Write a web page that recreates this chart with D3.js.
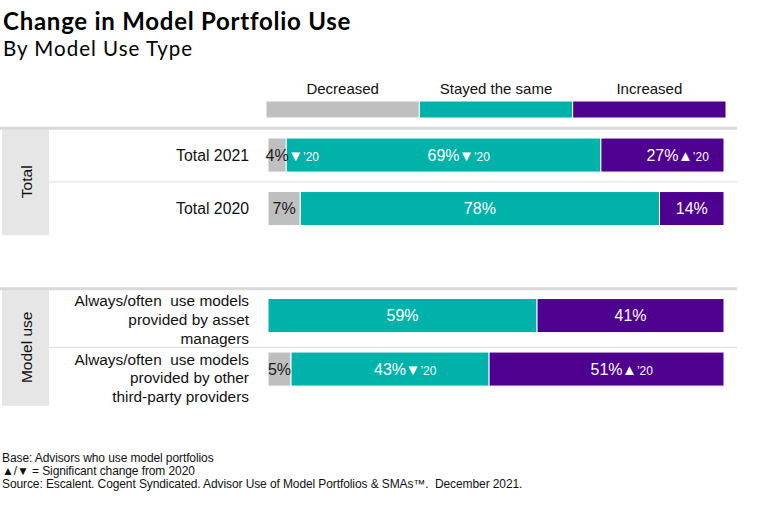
<!DOCTYPE html>
<html><head><meta charset="utf-8">
<script src="https://cdn.jsdelivr.net/npm/d3@7"></script>
<style>
html,body{margin:0;padding:0;background:#fff;}
text{font-family:"Liberation Sans",Arial,sans-serif;}
</style></head>
<body>
<svg id="chart" width="760" height="505"></svg>
<script>
// ---- data ----
const categories = ["Decreased", "Stayed the same", "Increased"];
const groups = ["Total", "Model use"];
const rowLabels = [
  ["Total 2021"],
  ["Total 2020"],
  ["Always/often  use models", "provided by asset", "managers"],
  ["Always/often  use models", "provided by other", "third-party providers"]
];
const rowGroup = ["Total", "Total", "Model use", "Model use"];
const decreased = [4, 7, 0, 5];
const stayed = [69, 78, 59, 43];
const increased = [27, 14, 41, 51];
const sigDecreased = ["down", null, null, null];
const sigStayed = ["down", null, null, "down"];
const sigIncreased = ["up", null, null, "up"];
const title = "Change in Model Portfolio Use";
const subtitle = "By Model Use Type";
const footnotes = [
  "Base: Advisors who use model portfolios",
  "\u25B2/\u25BC = Significant change from 2020",
  "Source: Escalent. Cogent Syndicated. Advisor Use of Model Portfolios & SMAs\u2122.  December 2021."
];

// ---- styles ----
const colors = ["#BFBFBF", "#00B2A9", "#4E008E"];
const labelColors = ["#1a1a1a", "#ffffff", "#ffffff"];

const svg = d3.select("#chart");

// titles
svg.append("text").attr("x", 3).attr("y", 30)
  .style("font-family", "Lato, 'Noto Sans', sans-serif").style("font-weight", 700)
  .style("font-size", "24px").style("letter-spacing", "0.75px").attr("fill", "#000").text(title);
svg.append("text").attr("x", 3).attr("y", 56)
  .style("font-family", "Lato, 'Noto Sans', sans-serif").style("font-weight", 400)
  .style("font-size", "20.5px").style("letter-spacing", "1px").attr("fill", "#000").text(subtitle);

// build table
const rowIds = rowLabels.map((d, i) => "r" + i);
const table = rowIds.map((id, i) => {
  const vals = [decreased[i], stayed[i], increased[i]];
  const sigs = [sigDecreased[i], sigStayed[i], sigIncreased[i]];
  const sum = d3.sum(vals);
  let acc = 0;
  const segs = vals.map((v, k) => {
    const s = { row: id, k, value: v, sig: sigs[k], x0: acc / sum, x1: (acc + v) / sum };
    acc += v;
    return s;
  });
  return { id, i, label: rowLabels[i], group: rowGroup[i], segs };
});

// scales
const x = d3.scaleLinear().domain([0, 1]).range([268, 724]);
const yDomain = [rowIds[0], rowIds[1], "gap", rowIds[2], rowIds[3]];
const y = d3.scaleBand().domain(yDomain).range([128.4, 395.7]).paddingInner(0.364).paddingOuter(0.18);
const legendX = d3.scaleBand().domain(categories).range([266, 726]);
const gapHalf = (y.step() - y.bandwidth()) / 2;

// legend
const lg = svg.append("g");
lg.selectAll("rect").data(categories).join("rect")
  .attr("x", d => legendX(d)).attr("y", 101)
  .attr("width", legendX.bandwidth()).attr("height", 17)
  .attr("fill", (d, k) => colors[k]).attr("stroke", "#fff").attr("stroke-width", 1);
lg.selectAll("text").data(categories).join("text")
  .attr("x", d => legendX(d) + legendX.bandwidth() / 2).attr("y", 94)
  .attr("text-anchor", "middle").style("font-size", "15px").attr("fill", "#111").text(d => d);

// group boxes and separators
groups.forEach((g, gi) => {
  const rs = table.filter(r => r.group === g);
  const top = y(rs[0].id) - gapHalf;
  const bottom = y(rs[rs.length - 1].id) + y.bandwidth() + gapHalf + (gi === 1 ? 10 : 0);
  svg.append("rect").attr("x", 2).attr("y", top + 1).attr("width", 47).attr("height", bottom - top - 1)
    .attr("fill", "#E6E6E6");
  svg.append("line").attr("x1", 0).attr("x2", 737).attr("y1", top).attr("y2", top)
    .attr("stroke", "#D9D9D9").attr("stroke-width", 3);
  rs.slice(1).forEach(r => {
    const yy = y(r.id) - gapHalf + (gi === 1 ? 5 : 0);
    svg.append("line").attr("x1", 49).attr("x2", 737).attr("y1", yy).attr("y2", yy)
      .attr("stroke", "#E3E3E3").attr("stroke-width", 1.2);
  });
  svg.append("text")
    .attr("transform", `translate(27,${(top + bottom) / 2}) rotate(-90)`)
    .attr("text-anchor", "middle").attr("dy", "0.35em")
    .style("font-size", "15.5px").attr("fill", "#111").text(g);
});

// row labels
table.forEach((r, ri) => {
  const multi = r.label.length > 1;
  const cy = y(r.id) + y.bandwidth() / 2 + (multi ? (ri === 2 ? 4 : 9) : 0);
  const lh = 18.8;
  const t = svg.append("text").attr("text-anchor", "end").style("font-size", multi ? "15.4px" : "15.8px").attr("fill", "#111");
  r.label.forEach((ln, li) => {
    t.append("tspan").attr("x", 249)
      .attr("y", cy + (li - (r.label.length - 1) / 2) * lh)
      .attr("dy", "0.35em").style("white-space", "pre").text(ln);
  });
});

// bars
const rowsG = svg.selectAll("g.row").data(table).join("g").attr("class", "row")
  .attr("transform", d => `translate(0,${y(d.id)})`);
rowsG.selectAll("rect").data(d => d.segs.filter(s => s.value > 0)).join("rect")
  .attr("x", s => x(s.x0)).attr("y", 0)
  .attr("width", s => x(s.x1) - x(s.x0)).attr("height", y.bandwidth())
  .attr("fill", s => colors[s.k]).attr("stroke", "#fff").attr("stroke-width", 1);

rowsG.each(function (r) {
  const g = d3.select(this);
  r.segs.filter(s => s.value > 0).forEach(s => {
    const cx = (x(s.x0) + x(s.x1)) / 2;
    const t = g.append("text").attr("x", cx).attr("y", y.bandwidth() / 2).attr("dy", "0.36em")
      .attr("text-anchor", "middle").style("font-size", "16px")
      .attr("fill", labelColors[s.k]).text(s.value + "%");
    if (s.sig) {
      const w = t.node().getComputedTextLength();
      const a = g.append("text").attr("x", cx + w / 2 - 0.5).attr("y", y.bandwidth() / 2).attr("dy", "0.36em")
        .attr("fill", "#fff");
      a.append("tspan").style("font-size", "15px").text(s.sig === "up" ? "\u25B2" : "\u25BC");
      a.append("tspan").style("font-size", "12px").text("\u201920");
    }
  });
});

// footnotes
svg.selectAll("text.foot").data(footnotes).join("text").attr("class", "foot")
  .attr("x", 2).attr("y", (d, i) => 462 + i * 13)
  .style("font-size", "12px").style("letter-spacing", "-0.1px").style("white-space", "pre")
  .attr("fill", "#111").text(d => d);
</script>
</body></html>
